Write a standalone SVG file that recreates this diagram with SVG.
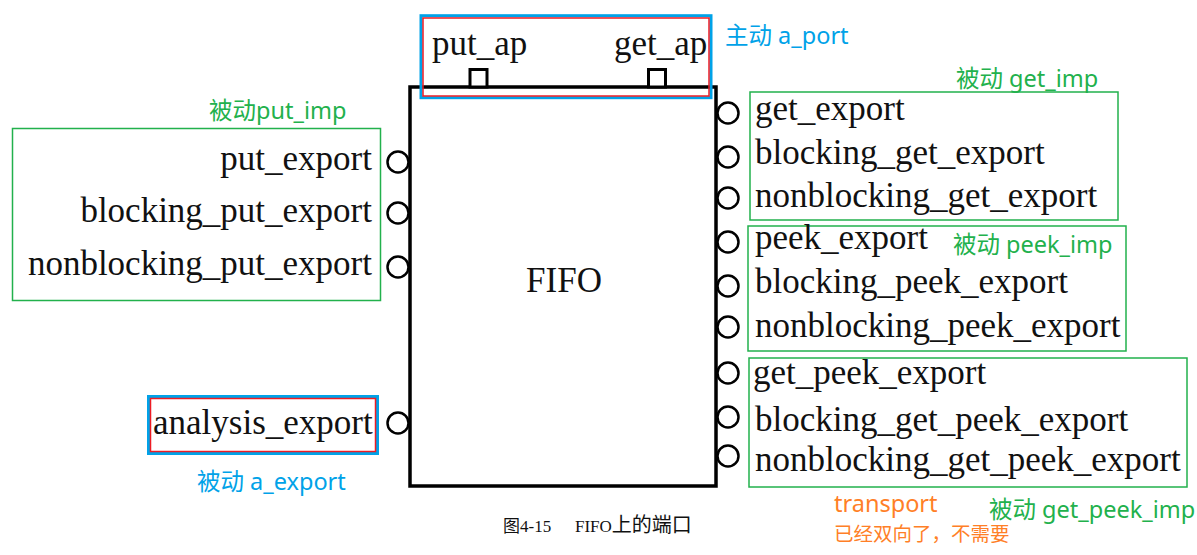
<svg xmlns="http://www.w3.org/2000/svg" width="1197" height="555" viewBox="0 0 1197 555">
<style>
.port{font-family:"Liberation Serif","Times New Roman",serif;font-size:35px;fill:#111}
.note{font-family:"Noto Sans","Noto Sans CJK SC",sans-serif;font-size:23.5px}
.g{fill:#22B14C}.b{fill:#00A2E8}.o{fill:#FF7F27}
.circ{fill:#fff;stroke:#000;stroke-width:2.5}
.gbox{fill:none;stroke:#22B14C;stroke-width:1.5}
.bbox{fill:none;stroke:#00A2E8;stroke-width:3}
.rbox{fill:none;stroke:#ED1C24;stroke-width:1.5}
.cap{font-family:"Liberation Serif","Noto Sans CJK SC",serif;font-size:17px;fill:#111}
</style>
<rect width="1197" height="555" fill="#fff"/>
<g id="fifo">
<rect x="410" y="87" width="306" height="399" fill="#fff" stroke="#000" stroke-width="3.5"/>
<text x="564" y="292" class="port" text-anchor="middle">FIFO</text>
</g>
<g id="a_port">
<rect x="470" y="69.5" width="17" height="17.5" fill="#fff" stroke="#000" stroke-width="3"/>
<rect x="648.5" y="69.5" width="17" height="17.5" fill="#fff" stroke="#000" stroke-width="3"/>
<text x="432" y="55" class="port">put_ap</text>
<text x="614" y="55" class="port">get_ap</text>
<rect x="421" y="15.7" width="290" height="82" class="bbox"/>
<rect x="423" y="18" width="286" height="78" class="rbox"/>
<text x="725" y="44" class="note b">主动 a_port</text>
</g>
<g id="put_imp">
<rect x="12.5" y="128.5" width="368" height="172" class="gbox"/>
<circle cx="398" cy="162" r="10.5" class="circ"/>
<circle cx="398" cy="213" r="10.5" class="circ"/>
<circle cx="398" cy="267" r="10.5" class="circ"/>
<text x="372" y="170" class="port" text-anchor="end">put_export</text>
<text x="372" y="222" class="port" text-anchor="end">blocking_put_export</text>
<text x="372" y="275" class="port" text-anchor="end">nonblocking_put_export</text>
<text x="209" y="119" class="note g">被动put_imp</text>
</g>
<g id="get_imp">
<rect x="750" y="92" width="368" height="128" class="gbox"/>
<circle cx="728" cy="113" r="10.5" class="circ"/>
<circle cx="728" cy="157" r="10.5" class="circ"/>
<circle cx="728" cy="198" r="10.5" class="circ"/>
<text x="755" y="120" class="port">get_export</text>
<text x="755" y="164" class="port">blocking_get_export</text>
<text x="755" y="207" class="port">nonblocking_get_export</text>
<text x="956" y="87" class="note g">被动 get_imp</text>
</g>
<g id="peek_imp">
<rect x="748" y="226" width="378" height="125" class="gbox"/>
<circle cx="728" cy="242" r="10.5" class="circ"/>
<circle cx="728" cy="286" r="10.5" class="circ"/>
<circle cx="728" cy="327" r="10.5" class="circ"/>
<text x="755" y="249" class="port">peek_export</text>
<text x="755" y="293" class="port">blocking_peek_export</text>
<text x="755" y="337" class="port">nonblocking_peek_export</text>
<text x="953" y="253" class="note g">被动 peek_imp</text>
</g>
<g id="get_peek_imp">
<rect x="749" y="358" width="438" height="129" class="gbox"/>
<circle cx="728" cy="373" r="10.5" class="circ"/>
<circle cx="728" cy="417" r="10.5" class="circ"/>
<circle cx="728" cy="456" r="10.5" class="circ"/>
<text x="753" y="384" class="port">get_peek_export</text>
<text x="755" y="431" class="port">blocking_get_peek_export</text>
<text x="755" y="471" class="port">nonblocking_get_peek_export</text>
<text x="989" y="518" class="note g">被动 get_peek_imp</text>
<text x="834" y="512" class="note o">transport</text>
<text x="834" y="541" class="note o" style="font-size:19.5px">已经双向了，不需要</text>
</g>
<g id="analysis">
<rect x="148.5" y="396.5" width="229" height="57" class="bbox"/>
<rect x="150.5" y="398.5" width="225" height="53" class="rbox"/>
<circle cx="398" cy="423" r="10.5" class="circ"/>
<text x="153" y="434" class="port">analysis_export</text>
<text x="197" y="490" class="note b">被动 a_export</text>
</g>
<g id="connectors"></g>
<text x="503" y="532" class="cap">图4-15<tspan x="575">FIFO</tspan><tspan style="font-size:20px">上的端口</tspan></text>
</svg>
